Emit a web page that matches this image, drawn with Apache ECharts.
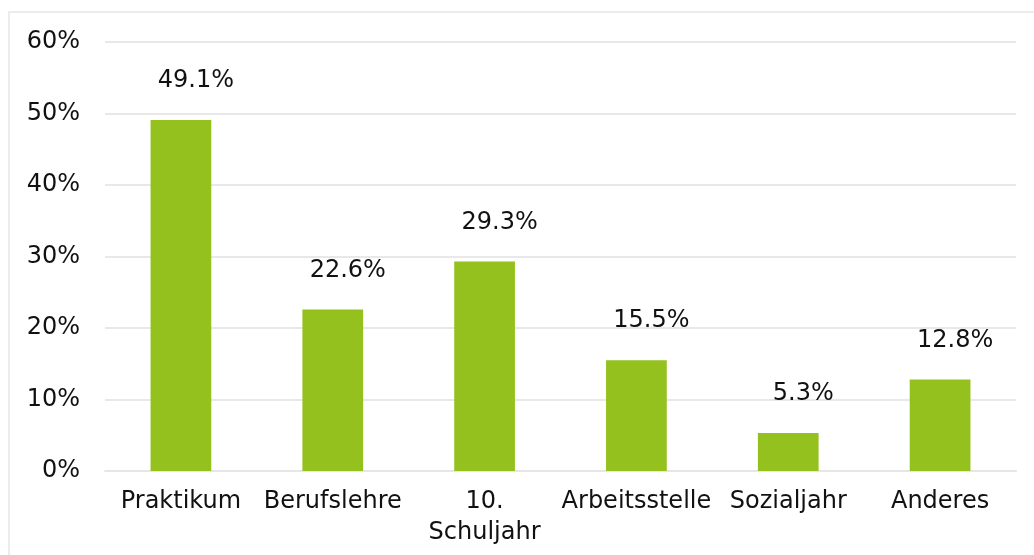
<!DOCTYPE html>
<html>
<head>
<meta charset="utf-8">
<script src="https://cdn.jsdelivr.net/npm/echarts@6/dist/echarts.min.js"></script>
<style>
  html, body { margin: 0; padding: 0; background: #fff; }
  #chart { width: 1034px; height: 555px; }
</style>
</head>
<body>
<div id="chart"></div>
<script>
const categories = ['Praktikum', 'Berufslehre', '10.\nSchuljahr', 'Arbeitsstelle', 'Sozialjahr', 'Anderes']
const values = [49.1, 22.6, 29.3, 15.5, 5.3, 12.8]
const yTicks = { min: 0, max: 60, interval: 10 }

const fontFamily = '"DejaVu Sans", Verdana, sans-serif'
const chart = echarts.init(document.getElementById('chart'))

const option = {
  animation: false,
  backgroundColor: '#fff',
  graphic: [
    {
      type: 'rect',
      shape: { x: 9, y: 12, width: 1100, height: 700 },
      style: { fill: 'none', stroke: '#e6e6e6', lineWidth: 1.5 },
      silent: true,
    },
  ],
  grid: { left: 105, right: 18, top: 42, bottom: 84 },
  xAxis: {
    type: 'category',
    data: categories,
    axisLine: { show: true, lineStyle: { color: '#e6e6e6', width: 2 } },
    axisTick: { show: false },
    axisLabel: {
      color: '#111',
      fontFamily: fontFamily,
      fontSize: 24,
      margin: 15,
      lineHeight: 31,
      interval: 0,
    },
  },
  yAxis: {
    type: 'value',
    min: yTicks.min,
    max: yTicks.max,
    interval: yTicks.interval,
    axisLine: { show: false },
    axisTick: { show: false },
    splitLine: { lineStyle: { color: '#e8e8e8', width: 2 } },
    axisLabel: {
      color: '#111',
      fontFamily: fontFamily,
      fontSize: 24,
      margin: 25,
      formatter: (v) => v + '%',
    },
  },
  series: [
    {
      type: 'bar',
      data: values,
      barWidth: '40%',
      itemStyle: { color: '#95c11f' },
      label: {
        show: true,
        position: 'top',
        distance: 27,
        offset: [15, 0],
        color: '#111',
        fontFamily: fontFamily,
        fontSize: 24,
        formatter: (p) => p.value.toFixed(1) + '%',
      },
    },
  ],
}
chart.setOption(option)
</script>
</body>
</html>
